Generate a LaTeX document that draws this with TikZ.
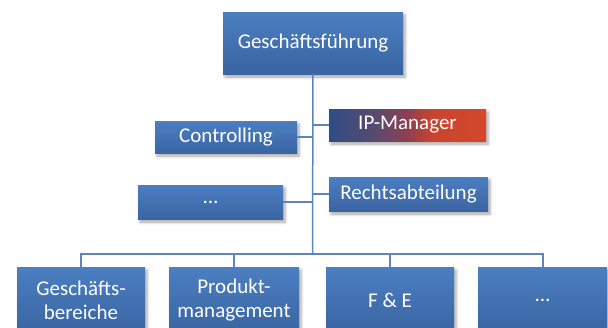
\documentclass[tikz,border=0pt]{standalone}
\usepackage{fontspec}
\setmainfont{Carlito}
\usetikzlibrary{shadows.blur}
\definecolor{boxtop}{HTML}{4B7FC1}
\definecolor{boxbot}{HTML}{3A64A2}
\definecolor{linec}{HTML}{5A85C0}
\pgfdeclarehorizontalshading{ipshade}{100bp}{color(0bp)=(rgb,255:red,46;green,77;blue,133); color(25bp)=(rgb,255:red,46;green,77;blue,133); color(40bp)=(rgb,255:red,90;green,74;blue,110); color(50bp)=(rgb,255:red,142;green,64;blue,80); color(57.5bp)=(rgb,255:red,200;green,68;blue,47); color(75bp)=(rgb,255:red,212;green,72;blue,44); color(100bp)=(rgb,255:red,212;green,72;blue,44)}
\tikzset{
  basebox/.style={rectangle, inner sep=0pt, text=white, align=center,
    font=\fontsize{21}{24}\selectfont,
    blur shadow={shadow xshift=2pt, shadow yshift=-3pt, shadow blur radius=3pt, shadow opacity=35}},
  orgbox/.style={basebox, top color=boxtop, bottom color=boxbot},
  ipbox/.style={basebox, shading=ipshade},
  conn/.style={draw=linec, line width=1.5pt}
}
\begin{document}
\begin{tikzpicture}[x=1pt,y=-1pt]
\useasboundingbox (0,0) rectangle (608,327);
\node[orgbox, minimum width=180pt, minimum height=62pt] (ceo) at (313,43) {Geschäftsführung};
\node[orgbox, minimum width=142pt, minimum height=32pt] (ctrl) at (226,137) {Controlling};
\node[ipbox, minimum width=157pt, minimum height=32pt] (ip) at (407.5,125) {IP-Manager};
\node[orgbox, minimum width=145pt, minimum height=34pt] (dots) at (210.5,202) {\dots};
\node[orgbox, minimum width=159pt, minimum height=34pt] (recht) at (408.5,194) {Rechtsabteilung};
\node[orgbox, minimum width=128pt, minimum height=66pt] (b1) at (81,300) {Geschäfts-\\bereiche};
\node[orgbox, minimum width=130pt, minimum height=66pt] (b2) at (234,300) {Produkt-\\management};
\node[orgbox, minimum width=128pt, minimum height=66pt] (b3) at (390,300) {F \& E};
\node[orgbox, minimum width=129pt, minimum height=66pt] (b4) at (542.5,300) {\dots};
\coordinate (bar) at (312.5,254);
\coordinate (barL) at (b1.north |- bar);
\coordinate (barR) at (543,254);
\draw[conn] (ceo.south) -- (bar);
\draw[conn] (ctrl.east) -- (ctrl.east -| bar);
\draw[conn] (ip.west) -- (ip.west -| bar);
\draw[conn] (dots.east) -- (dots.east -| bar);
\draw[conn] (recht.west) -- (recht.west -| bar);
\draw[conn] (b1.north) -- (barL) -- (barR) -- (b4.north -| barR);
\draw[conn] (b2.north) -- (b2.north |- bar);
\draw[conn] (b3.north) -- (b3.north |- bar);
\end{tikzpicture}
\end{document}
